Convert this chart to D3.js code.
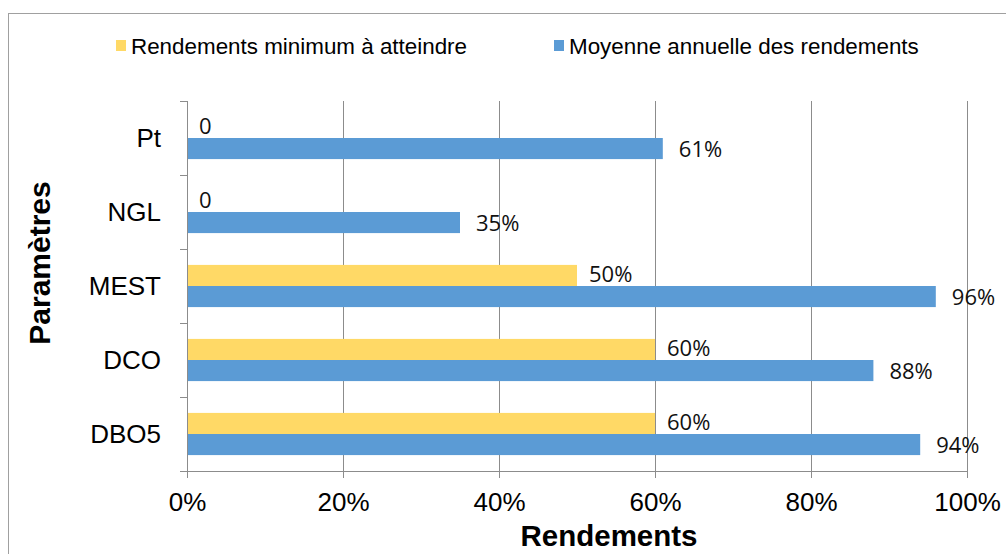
<!DOCTYPE html>
<html>
<head>
<meta charset="utf-8">
<script src="https://cdn.jsdelivr.net/npm/d3@7/dist/d3.min.js"></script>
<style>
  html, body { margin: 0; padding: 0; background: #fff; }
  svg { display: block; }
</style>
</head>
<body>
<svg id="chart" width="1006" height="554"></svg>
<script>
// Parameters, from top to bottom
const categories = ["Pt", "NGL", "MEST", "DCO", "DBO5"];
// Minimum required yield (fraction)
const minimumValues = [0, 0, 0.50, 0.60, 0.60];
const minimumLabels = ["0", "0", "50%", "60%", "60%"];
// Annual average yield (fraction)
const averageValues = [0.61, 0.35, 0.96, 0.88, 0.94];
const averageLabels = ["61%", "35%", "96%", "88%", "94%"];
const xTicks = [0, 0.2, 0.4, 0.6, 0.8, 1.0];
const seriesNames = ["Rendements minimum à atteindre", "Moyenne annuelle des rendements"];
const seriesColors = ["#FFD966", "#5B9BD5"];

const svg = d3.select("#chart");
const margin = { left: 187, right: 39, top: 101, bottom: 83 };
const W = 1006, H = 554;
const plotW = W - margin.left - margin.right;
const plotH = H - margin.top - margin.bottom;
const sans = "'Liberation Sans', Arial, sans-serif";

// Outer chart border
svg.append("rect")
  .attr("x", 8.5).attr("y", 13.5)
  .attr("width", 1100).attr("height", 600)
  .attr("fill", "none").attr("stroke", "#a0a0a0").attr("stroke-width", 1);

const g = svg.append("g").attr("transform", `translate(${margin.left},${margin.top})`);

const x = d3.scaleLinear().domain([0, 1]).range([0, plotW]);
const y = d3.scaleBand().domain(categories).range([0, plotH]).paddingInner(0.43).paddingOuter(0.215);
const sub = d3.scaleBand().domain([0, 1]).range([0, y.bandwidth()]);

// Vertical gridlines
g.append("g").selectAll("line").data(xTicks.slice(1)).join("line")
  .attr("x1", d => Math.round(x(d)) + 0.5).attr("x2", d => Math.round(x(d)) + 0.5)
  .attr("y1", 0).attr("y2", plotH)
  .attr("stroke", "#8c8c8c").attr("stroke-width", 1);

// Bars
const rows = categories.map((c, i) => ({ c, vals: [minimumValues[i], averageValues[i]], labels: [minimumLabels[i], averageLabels[i]] }));
const rowG = g.append("g").selectAll("g").data(rows).join("g")
  .attr("transform", d => `translate(0,${y(d.c)})`);

rowG.selectAll("rect").data(d => d.vals.map((v, k) => ({ v, k }))).join("rect")
  .attr("x", x(0))
  .attr("y", d => sub(d.k))
  .attr("width", d => x(d.v) - x(0))
  .attr("height", sub.bandwidth())
  .attr("fill", d => seriesColors[d.k]);

// Value labels
const labelOffset = [12, 16];
rowG.selectAll("text").data(d => d.vals.map((v, k) => ({ v, k, t: d.labels[k] }))).join("text")
  .attr("x", d => x(d.v) + labelOffset[d.k])
  .attr("y", d => sub(d.k) + sub.bandwidth() / 2 + (d.k === 0 ? -1.5 : 1))
  .attr("dy", "0.36em")
  .attr("font-family", "'Open Sans', 'DejaVu Sans', sans-serif")
  .attr("font-size", 22)
  .attr("fill", "#111")
  .text(d => d.t);

// Bottom axis
const xAxis = g.append("g").attr("transform", `translate(0,${plotH})`)
  .call(d3.axisBottom(x).tickValues(xTicks).tickFormat(d3.format(".0%")).tickSize(7).tickSizeOuter(0).tickPadding(15));
xAxis.select(".domain").attr("stroke", "#8c8c8c").attr("d", `M-7,0.5H${plotW}`);
xAxis.selectAll(".tick line").attr("stroke", "#8c8c8c");
xAxis.selectAll("text")
  .attr("font-family", sans)
  .attr("font-size", 26).attr("fill", "#000");

// Left axis with ticks at category boundaries
const yAxisG = g.append("g");
yAxisG.append("line")
  .attr("x1", 0.5).attr("x2", 0.5).attr("y1", 0).attr("y2", plotH)
  .attr("stroke", "#8c8c8c");
const boundaries = categories.map(c => y(c) - y.step() * y.paddingInner() / 2);
yAxisG.selectAll("line.tk").data(boundaries).join("line").attr("class", "tk")
  .attr("x1", -7).attr("x2", 0)
  .attr("y1", d => Math.round(d) + 0.5).attr("y2", d => Math.round(d) + 0.5)
  .attr("stroke", "#8c8c8c");
yAxisG.selectAll("text").data(categories).join("text")
  .attr("x", -26)
  .attr("y", c => y(c) + y.bandwidth() / 2)
  .attr("dy", "0.36em")
  .attr("text-anchor", "end")
  .attr("font-family", sans)
  .attr("font-size", 26).attr("fill", "#000")
  .text(c => c);

// Axis titles
svg.append("text")
  .attr("x", 609).attr("y", 546)
  .attr("text-anchor", "middle")
  .attr("font-family", sans)
  .attr("font-size", 29.5).attr("font-weight", "bold")
  .text("Rendements");
svg.append("text")
  .attr("transform", `translate(50,263) rotate(-90)`)
  .attr("text-anchor", "middle")
  .attr("font-family", sans)
  .attr("font-size", 30).attr("font-weight", "bold")
  .text("Paramètres");

// Legend
const legendX = [116, 554];
const legend = svg.append("g").selectAll("g").data(seriesNames).join("g")
  .attr("transform", (d, i) => `translate(${legendX[i]},40)`);
legend.append("rect").attr("width", 10).attr("height", 11)
  .attr("fill", (d, i) => seriesColors[i]);
legend.append("text")
  .attr("x", 15).attr("y", 6).attr("dy", "0.36em")
  .attr("font-family", sans)
  .attr("font-size", 22.4).attr("fill", "#000")
  .text(d => d);
</script>
</body>
</html>
